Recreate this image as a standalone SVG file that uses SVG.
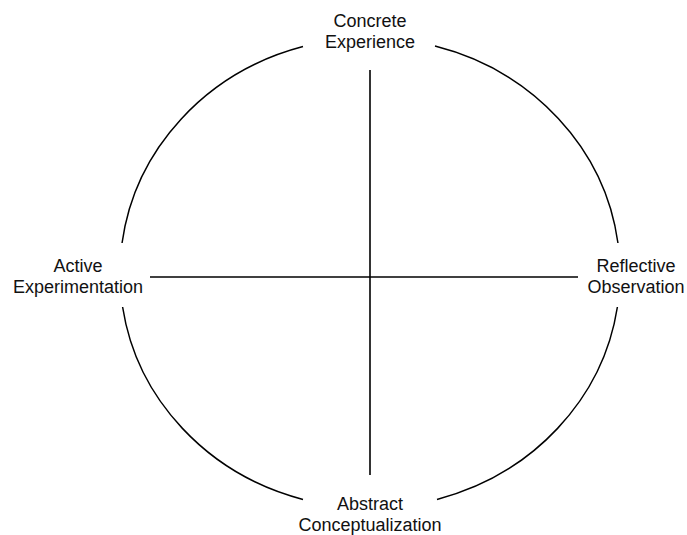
<svg xmlns="http://www.w3.org/2000/svg" width="687" height="535" viewBox="0 0 687 535">
<style>
.arc{fill:none;stroke:#000;stroke-width:1.5}
.ax{stroke:#000;stroke-width:1.6}
text{font-family:"Liberation Sans",Arial,sans-serif;font-size:18px;fill:#111;text-anchor:middle}
</style>
<rect width="687" height="535" fill="#fff"/>
<g id="connectors">
<path class="arc" d="M303,46.6 A250,235 0 0 0 122.05,243"/>
<path class="arc" d="M122.6,307 A250,235 0 0 0 303,499.4"/>
<path class="arc" d="M435,46.1 A250,235 0 0 1 617.95,243"/>
<path class="arc" d="M617.4,307 A250,235 0 0 1 437,499.4"/>
<line class="ax" x1="370" y1="70" x2="370" y2="475"/>
<line class="ax" x1="150" y1="277" x2="578" y2="277"/>
</g>
<g id="concrete-experience"><text x="370" y="27">Concrete</text><text x="370" y="48">Experience</text></g>
<g id="active-experimentation"><text x="78" y="272">Active</text><text x="78" y="293">Experimentation</text></g>
<g id="reflective-observation"><text x="636" y="272">Reflective</text><text x="636" y="293">Observation</text></g>
<g id="abstract-conceptualization"><text x="370" y="510">Abstract</text><text x="370" y="531">Conceptualization</text></g>
</svg>
